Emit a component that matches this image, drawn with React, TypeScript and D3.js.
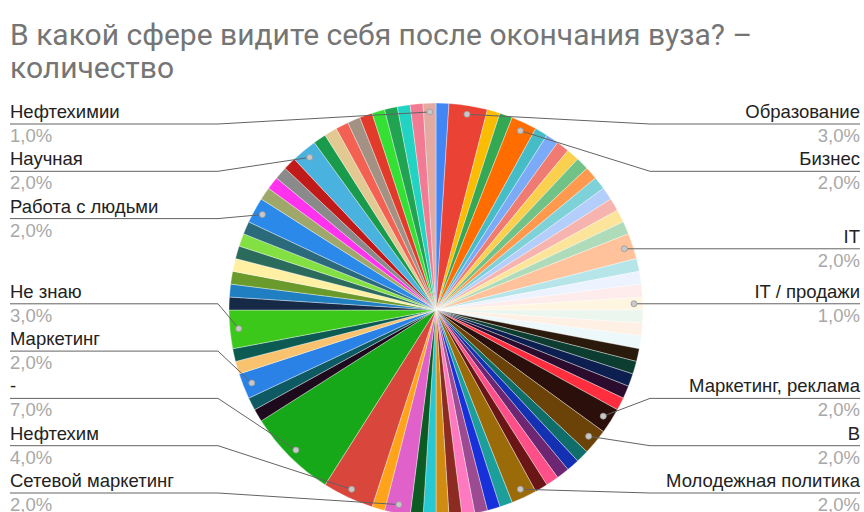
import React from 'react';
import * as d3 from 'd3';

const titleLines = ['В какой сфере видите себя после окончания вуза? –', 'количество'];

// slices in drawing order (clockwise from 12 o'clock); null = unlabelled answer
const categories: (string | null)[] = [
  null, 'Образование', null, null, 'Бизнес', null, null, null, null, null,
  null, null, null, null, null, null, 'IT', null, null, null,
  'IT / продажи', null, null, null, null, null, null, null, null, 'Маркетинг, реклама',
  'В', null, null, null, null, null, 'Молодежная политика', null, null, null,
  null, null, null, null, null, 'Сетевой маркетинг', null, 'Нефтехим', '-', null,
  null, 'Маркетинг', null, null, 'Не знаю', null, null, null, null, null,
  null, null, 'Работа с людьми', null, null, null, null, 'Научная', null, null,
  null, null, null, null, null, null, null, 'Нефтехимии',
];

const values: number[] = [
  1, 3, 1, 1, 2, 1, 1, 1, 1, 1,
  1, 1, 1, 1, 1, 1, 2, 1, 1, 1,
  1, 1, 1, 1, 1, 1, 1, 1, 1, 2,
  2, 1, 1, 1, 1, 1, 2, 1, 1, 1,
  1, 1, 1, 1, 1, 2, 1, 4, 7, 1,
  1, 2, 1, 1, 3, 1, 1, 1, 1, 1,
  1, 1, 2, 1, 1, 1, 1, 2, 1, 1,
  1, 1, 1, 1, 1, 1, 1, 1,
];

const colors: string[] = [
  '#4285f4', '#ea4335', '#fbbc04', '#34a853', '#ff6d01', '#46bdc6', '#7baaf7', '#f07b72', '#fcd04f', '#71c287',
  '#ff994d', '#7ed1d7', '#b3cefb', '#f7b4ae', '#fde49b', '#aedcba', '#ffc29a', '#b5e5e8', '#ecf3fe', '#fdeceb',
  '#fff6e2', '#ebf6ee', '#fff0e6', '#ecf8f9', '#2a1a0c', '#0c3d30', '#0c1f50', '#2b0c2e', '#ff2d3d', '#2b0f0a',
  '#6b4308', '#0f6e6a', '#1431b3', '#6c2672', '#ff4f89', '#6b1616', '#9b6a09', '#1c9e9b', '#1830d9', '#9b4b91',
  '#ff79c0', '#8b2b21', '#d08b12', '#27c8d2', '#0b5b23', '#e061c9', '#ffa31b', '#d9463b', '#17a81a', '#1d0a1c',
  '#0d5a62', '#2b82e6', '#f9c26f', '#0b5b52', '#3cc81b', '#162a48', '#1f7fc0', '#6a9a2b', '#fff0a3', '#2b6b5c',
  '#82e043', '#2a6a7b', '#2b89e9', '#9fa86a', '#ff33ee', '#8a8a8a', '#c01a1a', '#4ab2de', '#1a9a4b', '#e2c992',
  '#f26151', '#a39183', '#e23b2b', '#33e033', '#21a352', '#22d2c2', '#f27a93', '#e2aaa0',
];

export default function App() {
  const W = 864, H = 512;
  const cx = 436, cy = 310, R = 207;
  const dotR = R * 0.957;
  const total = d3.sum(values);
  const pie = d3.pie<number>().sort(null).value((d) => d)(values);
  const arc = d3.arc<d3.PieArcDatum<number>>().innerRadius(0).outerRadius(R);
  const fmt = (v: number) => ((v / total) * 100).toFixed(1).replace('.', ',') + '%';

  type Lab = { name: string; pct: string; dx: number; dy: number; side: 'L' | 'R'; ly: number };
  const labs: Lab[] = [];
  pie.forEach((p, i) => {
    const name = categories[i];
    if (name === null) return;
    const mid = (p.startAngle + p.endAngle) / 2;
    const dx = cx + dotR * Math.sin(mid);
    const dy = cy - dotR * Math.cos(mid);
    labs.push({ name, pct: fmt(p.value), dx, dy, side: Math.sin(mid) < 0 ? 'L' : 'R', ly: dy });
  });

  const gap = 47.3, minY = 124, maxY = 493;
  (['L', 'R'] as const).forEach((s) => {
    const arr = labs.filter((l) => l.side === s).sort((a, b) => a.dy - b.dy);
    let prev = -Infinity;
    arr.forEach((l) => {
      l.ly = Math.max(l.dy, prev + gap, minY);
      prev = l.ly;
    });
    let next = Infinity;
    for (let k = arr.length - 1; k >= 0; k--) {
      const l = arr[k];
      l.ly = Math.min(l.ly, next - gap, maxY);
      next = l.ly;
    }
  });

  const font = '"Liberation Sans", Arial, sans-serif';

  return (
    <svg width={W} height={H} style={{ position: 'absolute', left: 0, top: 0, background: '#fff' }}>
      <rect x={0} y={0} width={W} height={H} fill="#fff" />
      <g fontFamily='Roboto, "Liberation Sans", Arial, sans-serif' fontSize={30} fill="#757575">
        <text x={10} y={45}>{titleLines[0]}</text>
        <text x={10} y={78}>{titleLines[1]}</text>
      </g>
      <g transform={`translate(${cx},${cy})`}>
        {pie.map((p, i) => (
          <path key={i} d={arc(p) || ''} fill={colors[i]} stroke="#fff" strokeWidth={0.6} strokeOpacity={0.6} />
        ))}
      </g>
      <g fontFamily={font} fontSize={18.5}>
        {labs.map((l, i) => {
          const left = l.side === 'L';
          const tx = left ? 10 : 860;
          const ex = left ? 218 : 650;
          return (
            <g key={i}>
              <path d={`M${tx},${l.ly}H${ex}L${l.dx},${l.dy}`} fill="none" stroke="#636363" strokeWidth={1} />
              <circle cx={l.dx} cy={l.dy} r={3} fill="#c8c8c8" stroke="#999" strokeWidth={0.8} />
              <text x={tx} y={l.ly - 6} textAnchor={left ? 'start' : 'end'} fill="#222">{l.name}</text>
              <text x={tx} y={l.ly + 18} textAnchor={left ? 'start' : 'end'} fill="#a8a8a8">{l.pct}</text>
            </g>
          );
        })}
      </g>
    </svg>
  );
}
